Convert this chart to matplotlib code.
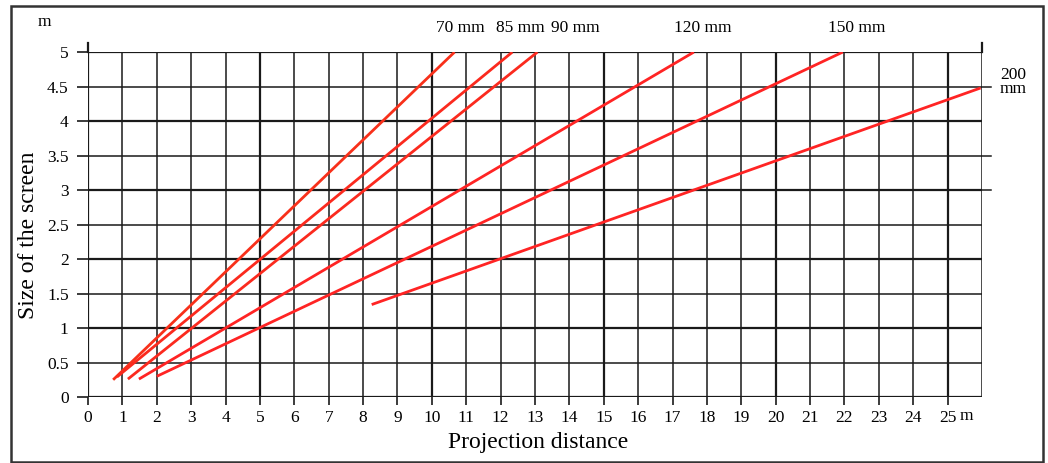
import matplotlib.pyplot as plt
from matplotlib.patches import Rectangle

plt.rcParams['font.family'] = ['Liberation Serif', 'DejaVu Serif']

# lens focal lengths and the line ends (distance m, screen m)
lenses = ["70 mm", "85 mm", "90 mm", "120 mm", "150 mm", "200\nmm"]
x_start = [0.73, 0.84, 1.16, 1.48, 2.0, 8.25]
y_start = [0.25, 0.29, 0.26, 0.26, 0.30, 1.34]
x_end = [10.66, 12.34, 13.07, 17.62, 21.95, 25.96]
y_end = [5.0, 5.0, 5.0, 5.0, 5.0, 4.48]
line_colors = ["#f8301a", "#fb2a1e", "#fb2a1e", "#ff2424", "#ff2424", "#ff2424"]

x_ticks = list(range(0, 26))
x_labels = [str(v) for v in x_ticks]
y_ticks = [0, 0.5, 1, 1.5, 2, 2.5, 3, 3.5, 4, 4.5, 5]
y_labels = ["0", "0.5", "1", "1.5", "2", "2.5", "3", "3.5", "4", "4.5", "5"]

fig = plt.figure(figsize=(10.48, 4.63), dpi=100)
ax = fig.add_axes([0.084, 0.1425, 0.853, 0.745])
ax.set_xlim(0, 26)
ax.set_ylim(0, 5)

# grid, heavier every 5 m / every 1 m
for v in range(0, 27):
    lw = 1.6 if v % 5 == 0 else 1.1
    ax.axvline(v, color="#1a1a1a", lw=lw, zorder=1)
for v in y_ticks:
    lw = 1.6 if float(v).is_integer() else 1.1
    ax.axhline(v, color="#1a1a1a", lw=lw, zorder=1)

# small stubs past the grid like in the print
for v in [4.5, 3.5, 3]:
    ax.plot([26, 26.25], [v, v], color="#1a1a1a", lw=1.1, clip_on=False)
ax.plot([0, 0], [5, 5.13], color="#1a1a1a", lw=1.6, clip_on=False)
ax.plot([26, 26], [5, 5.13], color="#1a1a1a", lw=1.6, clip_on=False)

for i in range(len(lenses)):
    ax.plot([x_start[i], x_end[i]], [y_start[i], y_end[i]],
            color=line_colors[i], lw=2.0, solid_capstyle="butt", zorder=3)

for s in ax.spines.values():
    s.set_visible(False)

ax.set_xticks(x_ticks)
ax.set_xticklabels(x_labels, fontsize=12.5)
ax.set_yticks(y_ticks)
ax.set_yticklabels(y_labels, fontsize=12.5)
ax.tick_params(axis="x", length=6, width=1.2, color="#1a1a1a", pad=3)
ax.tick_params(axis="y", length=8, width=1.2, color="#1a1a1a", pad=6)
# unit after the last distance tick
ax.text(25.35, -0.27, "m", fontsize=12.5, ha="left", va="center", clip_on=False)

ax.set_xlabel("Projection distance", fontsize=17, va="center")
ax.xaxis.set_label_coords(0.504, -0.133)
ax.set_ylabel("Size of the screen", fontsize=17)
ax.yaxis.set_label_coords(-0.055, 0.47)

# lens names above the line ends
fig.text(460 / 1048, 1 - 28 / 463, "70 mm", fontsize=12.5, ha="center", va="center")
fig.text(520 / 1048, 1 - 28 / 463, "85 mm", fontsize=12.5, ha="center", va="center")
fig.text(575 / 1048, 1 - 28 / 463, "90 mm", fontsize=12.5, ha="center", va="center")
fig.text(703 / 1048, 1 - 28 / 463, "120 mm", fontsize=12.5, ha="center", va="center")
fig.text(857 / 1048, 1 - 28 / 463, "150 mm", fontsize=12.5, ha="center", va="center")
fig.text(1013 / 1048, 1 - 82 / 463, "200\nmm", fontsize=12.5, ha="center", va="center",
         linespacing=0.85)
fig.text(44 / 1048, 1 - 22 / 463, "m", fontsize=12.5, ha="center", va="center")

# outer frame
fig.patches.append(Rectangle((11 / 1048, 1 - 462 / 463), 1032 / 1048, 456 / 463,
                             transform=fig.transFigure, fill=False,
                             edgecolor="#333333", lw=1.8))

fig.savefig("out.png", dpi=100)
